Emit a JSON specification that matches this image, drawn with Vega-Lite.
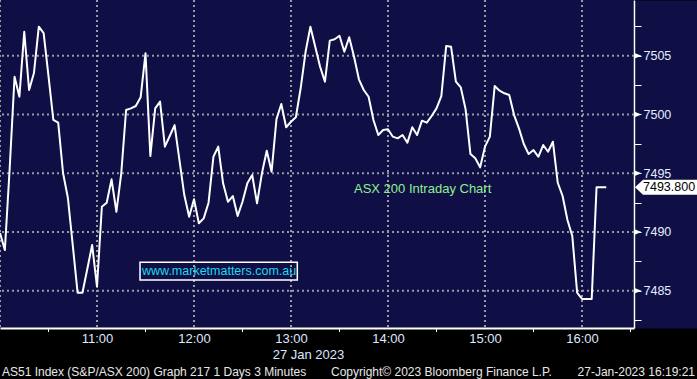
{
  "$schema": "https://vega.github.io/schema/vega-lite/v6.json",
  "width": 634,
  "height": 328,
  "autosize": {"type": "none"},
  "padding": {"left": 0, "top": 0, "right": 63, "bottom": 51},
  "background": "#000000",
  "config": {"view": {"fill": "#0f0f46", "stroke": null}, "font": "Liberation Sans"},
  "datasets": {
    "ticks": [{"v": 7485}, {"v": 7490}, {"v": 7495}, {"v": 7500}, {"v": 7505}],
    "hours": [
      {"t": "2023-01-27T10:00"}, {"t": "2023-01-27T11:00"}, {"t": "2023-01-27T12:00"}, {"t": "2023-01-27T13:00"},
      {"t": "2023-01-27T14:00"}, {"t": "2023-01-27T15:00"}, {"t": "2023-01-27T16:00"}
    ],
    "halfhours": [
      {"t": "2023-01-27T10:30"}, {"t": "2023-01-27T11:30"}, {"t": "2023-01-27T12:30"}, {"t": "2023-01-27T13:30"},
      {"t": "2023-01-27T14:30"}, {"t": "2023-01-27T15:30"}, {"t": "2023-01-27T16:30"}
    ]
  },
  "data": {"values": [
    {"t": "2023-01-27T10:00", "price": 7489.91},
    {"t": "2023-01-27T10:03", "price": 7488.46},
    {"t": "2023-01-27T10:06", "price": 7495.44},
    {"t": "2023-01-27T10:09", "price": 7503.21},
    {"t": "2023-01-27T10:12", "price": 7501.51},
    {"t": "2023-01-27T10:15", "price": 7507.04},
    {"t": "2023-01-27T10:18", "price": 7502.08},
    {"t": "2023-01-27T10:21", "price": 7503.53},
    {"t": "2023-01-27T10:24", "price": 7507.47},
    {"t": "2023-01-27T10:27", "price": 7506.93},
    {"t": "2023-01-27T10:30", "price": 7503.27},
    {"t": "2023-01-27T10:33", "price": 7499.53},
    {"t": "2023-01-27T10:36", "price": 7499.30},
    {"t": "2023-01-27T10:39", "price": 7495.02},
    {"t": "2023-01-27T10:42", "price": 7492.89},
    {"t": "2023-01-27T10:45", "price": 7488.89},
    {"t": "2023-01-27T10:48", "price": 7484.83},
    {"t": "2023-01-27T10:51", "price": 7484.83},
    {"t": "2023-01-27T10:54", "price": 7486.85},
    {"t": "2023-01-27T10:57", "price": 7488.89},
    {"t": "2023-01-27T11:00", "price": 7485.34},
    {"t": "2023-01-27T11:03", "price": 7492.15},
    {"t": "2023-01-27T11:06", "price": 7492.49},
    {"t": "2023-01-27T11:09", "price": 7494.48},
    {"t": "2023-01-27T11:12", "price": 7491.72},
    {"t": "2023-01-27T11:15", "price": 7494.99},
    {"t": "2023-01-27T11:18", "price": 7500.38},
    {"t": "2023-01-27T11:21", "price": 7500.52},
    {"t": "2023-01-27T11:24", "price": 7500.72},
    {"t": "2023-01-27T11:27", "price": 7501.46},
    {"t": "2023-01-27T11:30", "price": 7505.20},
    {"t": "2023-01-27T11:33", "price": 7496.46},
    {"t": "2023-01-27T11:36", "price": 7500.52},
    {"t": "2023-01-27T11:39", "price": 7501.09},
    {"t": "2023-01-27T11:42", "price": 7497.26},
    {"t": "2023-01-27T11:45", "price": 7498.17},
    {"t": "2023-01-27T11:48", "price": 7499.10},
    {"t": "2023-01-27T11:51", "price": 7496.12},
    {"t": "2023-01-27T11:54", "price": 7493.14},
    {"t": "2023-01-27T11:57", "price": 7491.30},
    {"t": "2023-01-27T12:00", "price": 7492.78},
    {"t": "2023-01-27T12:03", "price": 7490.74},
    {"t": "2023-01-27T12:06", "price": 7491.16},
    {"t": "2023-01-27T12:09", "price": 7492.49},
    {"t": "2023-01-27T12:12", "price": 7496.40},
    {"t": "2023-01-27T12:15", "price": 7497.26},
    {"t": "2023-01-27T12:18", "price": 7494.14},
    {"t": "2023-01-27T12:21", "price": 7492.57},
    {"t": "2023-01-27T12:24", "price": 7493.06},
    {"t": "2023-01-27T12:27", "price": 7491.36},
    {"t": "2023-01-27T12:30", "price": 7492.57},
    {"t": "2023-01-27T12:33", "price": 7494.14},
    {"t": "2023-01-27T12:36", "price": 7494.85},
    {"t": "2023-01-27T12:39", "price": 7492.44},
    {"t": "2023-01-27T12:42", "price": 7494.99},
    {"t": "2023-01-27T12:45", "price": 7496.91},
    {"t": "2023-01-27T12:48", "price": 7495.13},
    {"t": "2023-01-27T12:51", "price": 7499.59},
    {"t": "2023-01-27T12:54", "price": 7500.89},
    {"t": "2023-01-27T12:57", "price": 7498.91},
    {"t": "2023-01-27T13:00", "price": 7499.38},
    {"t": "2023-01-27T13:03", "price": 7499.76},
    {"t": "2023-01-27T13:06", "price": 7502.25},
    {"t": "2023-01-27T13:09", "price": 7505.31},
    {"t": "2023-01-27T13:12", "price": 7507.47},
    {"t": "2023-01-27T13:15", "price": 7505.77},
    {"t": "2023-01-27T13:18", "price": 7504.06},
    {"t": "2023-01-27T13:21", "price": 7502.79},
    {"t": "2023-01-27T13:24", "price": 7506.28},
    {"t": "2023-01-27T13:27", "price": 7506.40},
    {"t": "2023-01-27T13:30", "price": 7506.70},
    {"t": "2023-01-27T13:33", "price": 7505.34},
    {"t": "2023-01-27T13:36", "price": 7506.57},
    {"t": "2023-01-27T13:39", "price": 7504.91},
    {"t": "2023-01-27T13:42", "price": 7502.99},
    {"t": "2023-01-27T13:45", "price": 7502.08},
    {"t": "2023-01-27T13:48", "price": 7501.51},
    {"t": "2023-01-27T13:51", "price": 7499.53},
    {"t": "2023-01-27T13:54", "price": 7498.25},
    {"t": "2023-01-27T13:57", "price": 7498.68},
    {"t": "2023-01-27T14:00", "price": 7498.74},
    {"t": "2023-01-27T14:03", "price": 7498.11},
    {"t": "2023-01-27T14:06", "price": 7497.97},
    {"t": "2023-01-27T14:09", "price": 7498.25},
    {"t": "2023-01-27T14:12", "price": 7497.60},
    {"t": "2023-01-27T14:15", "price": 7498.91},
    {"t": "2023-01-27T14:18", "price": 7498.25},
    {"t": "2023-01-27T14:21", "price": 7499.47},
    {"t": "2023-01-27T14:24", "price": 7499.30},
    {"t": "2023-01-27T14:27", "price": 7499.87},
    {"t": "2023-01-27T14:30", "price": 7500.52},
    {"t": "2023-01-27T14:33", "price": 7501.57},
    {"t": "2023-01-27T14:36", "price": 7505.83},
    {"t": "2023-01-27T14:39", "price": 7505.77},
    {"t": "2023-01-27T14:42", "price": 7502.79},
    {"t": "2023-01-27T14:45", "price": 7502.31},
    {"t": "2023-01-27T14:48", "price": 7500.44},
    {"t": "2023-01-27T14:51", "price": 7496.63},
    {"t": "2023-01-27T14:54", "price": 7496.27},
    {"t": "2023-01-27T14:57", "price": 7495.50},
    {"t": "2023-01-27T15:00", "price": 7497.26},
    {"t": "2023-01-27T15:03", "price": 7498.11},
    {"t": "2023-01-27T15:06", "price": 7502.42},
    {"t": "2023-01-27T15:09", "price": 7502.02},
    {"t": "2023-01-27T15:12", "price": 7501.80},
    {"t": "2023-01-27T15:15", "price": 7501.66},
    {"t": "2023-01-27T15:18", "price": 7499.95},
    {"t": "2023-01-27T15:21", "price": 7498.82},
    {"t": "2023-01-27T15:24", "price": 7497.49},
    {"t": "2023-01-27T15:27", "price": 7496.63},
    {"t": "2023-01-27T15:30", "price": 7496.97},
    {"t": "2023-01-27T15:33", "price": 7496.40},
    {"t": "2023-01-27T15:36", "price": 7497.40},
    {"t": "2023-01-27T15:39", "price": 7496.83},
    {"t": "2023-01-27T15:42", "price": 7497.68},
    {"t": "2023-01-27T15:45", "price": 7494.19},
    {"t": "2023-01-27T15:48", "price": 7493.06},
    {"t": "2023-01-27T15:51", "price": 7491.02},
    {"t": "2023-01-27T15:54", "price": 7489.66},
    {"t": "2023-01-27T15:57", "price": 7484.83},
    {"t": "2023-01-27T16:00", "price": 7484.30},
    {"t": "2023-01-27T16:03", "price": 7484.30},
    {"t": "2023-01-27T16:06", "price": 7484.30},
    {"t": "2023-01-27T16:09", "price": 7493.80},
    {"t": "2023-01-27T16:12", "price": 7493.80},
    {"t": "2023-01-27T16:15", "price": 7493.80}
  ]},
  "layer": [
    {
      "data": {"name": "hours"},
      "mark": {"type": "rule", "color": "#9a9aa2", "strokeWidth": 2, "strokeDash": [2, 3]},
      "encoding": {
        "x": {"field": "t", "type": "temporal", "axis": null}
      }
    },
    {
      "data": {"name": "ticks"},
      "mark": {"type": "rule", "color": "#9a9aa2", "strokeWidth": 2, "strokeDash": [2, 3]},
      "encoding": {
        "y": {"field": "v", "type": "quantitative", "axis": null}
      }
    },
    {
      "data": {"name": "halfhours"},
      "mark": {"type": "rule", "color": "#ffffff", "strokeWidth": 1},
      "encoding": {
        "x": {"field": "t", "type": "temporal", "axis": null},
        "y": {"datum": 7481.83, "type": "quantitative", "axis": null},
        "y2": {"datum": 7481.49}
      }
    },
    {
      "mark": {"type": "line", "color": "#ffffff", "strokeWidth": 2, "strokeJoin": "round"},
      "encoding": {
        "x": {
          "field": "t", "type": "temporal",
          "scale": {"domain": [
            {"year": 2023, "month": 1, "date": 27, "hours": 10, "minutes": 0},
            {"year": 2023, "month": 1, "date": 27, "hours": 16, "minutes": 32, "seconds": 10}
          ]},
          "axis": {
            "orient": "bottom",
            "values": [
              {"year": 2023, "month": 1, "date": 27, "hours": 11, "minutes": 0},
              {"year": 2023, "month": 1, "date": 27, "hours": 12, "minutes": 0},
              {"year": 2023, "month": 1, "date": 27, "hours": 13, "minutes": 0},
              {"year": 2023, "month": 1, "date": 27, "hours": 14, "minutes": 0},
              {"year": 2023, "month": 1, "date": 27, "hours": 15, "minutes": 0},
              {"year": 2023, "month": 1, "date": 27, "hours": 16, "minutes": 0}
            ],
            "format": "%H:%M",
            "labelOverlap": false,
            "labelFlush": false,
            "labelColor": "#dfe8ff",
            "labelFont": "Liberation Sans",
            "labelFontSize": 13,
            "labelBaseline": "alphabetic",
            "labelPadding": 14.5,
            "domainColor": "#ffffff",
            "domainWidth": 2,
            "ticks": false,
            "grid": false,
            "title": "27 Jan 2023",
            "titleColor": "#dfe8ff",
            "titleFont": "Liberation Sans",
            "titleFontSize": 13,
            "titleFontWeight": "normal",
            "titleX": 308,
            "titleY": 30,
            "titleAlign": "center",
            "titleBaseline": "alphabetic"
          }
        },
        "y": {
          "field": "price", "type": "quantitative",
          "scale": {"domain": [7481.83, 7509.74], "zero": false, "nice": false},
          "axis": {
            "orient": "right",
            "offset": 32,
            "domainColor": "#0f0f46",
            "domainWidth": 62,
            "ticks": false,
            "labels": false,
            "grid": false,
            "title": null
          }
        }
      }
    },
    {
      "data": {"name": "ticks"},
      "mark": {"type": "point", "shape": "M-1,-0.8L1,0L-1,0.8Z", "filled": true, "color": "#ffffff", "opacity": 1, "size": 49, "xOffset": 4},
      "encoding": {
        "x": {"datum": {"year": 2023, "month": 1, "date": 27, "hours": 16, "minutes": 32, "seconds": 10}, "type": "temporal", "axis": null},
        "y": {
          "field": "v", "type": "quantitative",
          "axis": {
            "orient": "right",
            "values": [7482.5, 7485, 7487.5, 7490, 7492.5, 7495, 7497.5, 7500, 7502.5, 7505, 7507.5],
            "format": "d",
            "labelExpr": "datum.value % 5 == 0 ? datum.label : ''",
            "labelOverlap": false,
            "labelFlush": false,
            "labelColor": "#e6ecff",
            "labelFont": "Liberation Sans",
            "labelFontSize": 12.5,
            "labelPadding": 2,
            "labelBaseline": "middle",
            "domainColor": "#ffffff",
            "domainWidth": 1.5,
            "tickColor": "#ffffff",
            "tickSize": 7,
            "tickWidth": 1,
            "grid": false,
            "title": null
          }
        }
      }
    },
    {
      "data": {"values": [{}]},
      "mark": {"type": "point", "shape": "M-1,0L-0.75,-0.234L1,-0.234L1,0.234L-0.75,0.234Z", "filled": true, "color": "#ffffff", "opacity": 1, "size": 4096, "xOffset": 33},
      "encoding": {
        "x": {"datum": {"year": 2023, "month": 1, "date": 27, "hours": 16, "minutes": 32, "seconds": 10}, "type": "temporal", "axis": null},
        "y": {"datum": 7493.8, "type": "quantitative", "axis": null}
      }
    },
    {
      "data": {"values": [{}]},
      "mark": {"type": "text", "text": "7493.800", "align": "left", "baseline": "middle", "dx": 9, "font": "Liberation Sans", "fontSize": 12.5, "color": "#000000"},
      "encoding": {
        "x": {"datum": {"year": 2023, "month": 1, "date": 27, "hours": 16, "minutes": 32, "seconds": 10}, "type": "temporal", "axis": null},
        "y": {"datum": 7493.8, "type": "quantitative", "axis": null}
      }
    },
    {
      "data": {"values": [{}]},
      "mark": {"type": "text", "text": "ASX 200 Intraday Chart", "align": "left", "baseline": "middle", "font": "Liberation Sans", "fontSize": 13, "color": "#90ee90"},
      "encoding": {
        "x": {"datum": {"year": 2023, "month": 1, "date": 27, "hours": 13, "minutes": 38, "seconds": 58}, "type": "temporal", "axis": null},
        "y": {"datum": 7493.66, "type": "quantitative", "axis": null}
      }
    },
    {
      "data": {"values": [{}]},
      "mark": {"type": "rect", "fill": "#000000", "fillOpacity": 0, "stroke": "#ffffff", "strokeWidth": 1.5},
      "encoding": {
        "x": {"datum": {"year": 2023, "month": 1, "date": 27, "hours": 11, "minutes": 26, "seconds": 36}, "type": "temporal", "axis": null},
        "x2": {"datum": {"year": 2023, "month": 1, "date": 27, "hours": 13, "minutes": 3, "seconds": 54}},
        "y": {"datum": 7487.42, "type": "quantitative", "axis": null},
        "y2": {"datum": 7485.91}
      }
    },
    {
      "data": {"values": [{}]},
      "mark": {"type": "text", "text": "www.marketmatters.com.au", "align": "left", "baseline": "middle", "font": "Liberation Sans", "fontSize": 12.5, "color": "#1ed8ee"},
      "encoding": {
        "x": {"datum": {"year": 2023, "month": 1, "date": 27, "hours": 11, "minutes": 27, "seconds": 50}, "type": "temporal", "axis": null},
        "y": {"datum": 7486.68, "type": "quantitative", "axis": null}
      }
    },
    {
      "data": {"values": [{}]},
      "mark": {"type": "text", "text": "AS51 Index (S&P/ASX 200) Graph 217 1 Days 3 Minutes", "align": "left", "baseline": "alphabetic", "font": "Liberation Sans", "fontSize": 12, "color": "#e8e8e8"},
      "encoding": {
        "x": {"datum": {"year": 2023, "month": 1, "date": 27, "hours": 10, "minutes": 1, "seconds": 14}, "type": "temporal", "axis": null},
        "y": {"datum": 7477.74, "type": "quantitative", "axis": null}
      }
    },
    {
      "data": {"values": [{}]},
      "mark": {"type": "text", "text": "Copyright© 2023 Bloomberg Finance L.P.", "align": "left", "baseline": "alphabetic", "font": "Liberation Sans", "fontSize": 12, "color": "#e8e8e8"},
      "encoding": {
        "x": {"datum": {"year": 2023, "month": 1, "date": 27, "hours": 13, "minutes": 24, "seconds": 44}, "type": "temporal", "axis": null},
        "y": {"datum": 7477.74, "type": "quantitative", "axis": null}
      }
    },
    {
      "data": {"values": [{}]},
      "mark": {"type": "text", "text": "27-Jan-2023 16:19:21", "align": "right", "baseline": "alphabetic", "font": "Liberation Sans", "fontSize": 12, "color": "#e8e8e8"},
      "encoding": {
        "x": {"datum": {"year": 2023, "month": 1, "date": 27, "hours": 17, "minutes": 9, "seconds": 54}, "type": "temporal", "axis": null},
        "y": {"datum": 7477.74, "type": "quantitative", "axis": null}
      }
    }
  ],
  "resolve": {"axis": {"x": "independent", "y": "independent"}}
}
